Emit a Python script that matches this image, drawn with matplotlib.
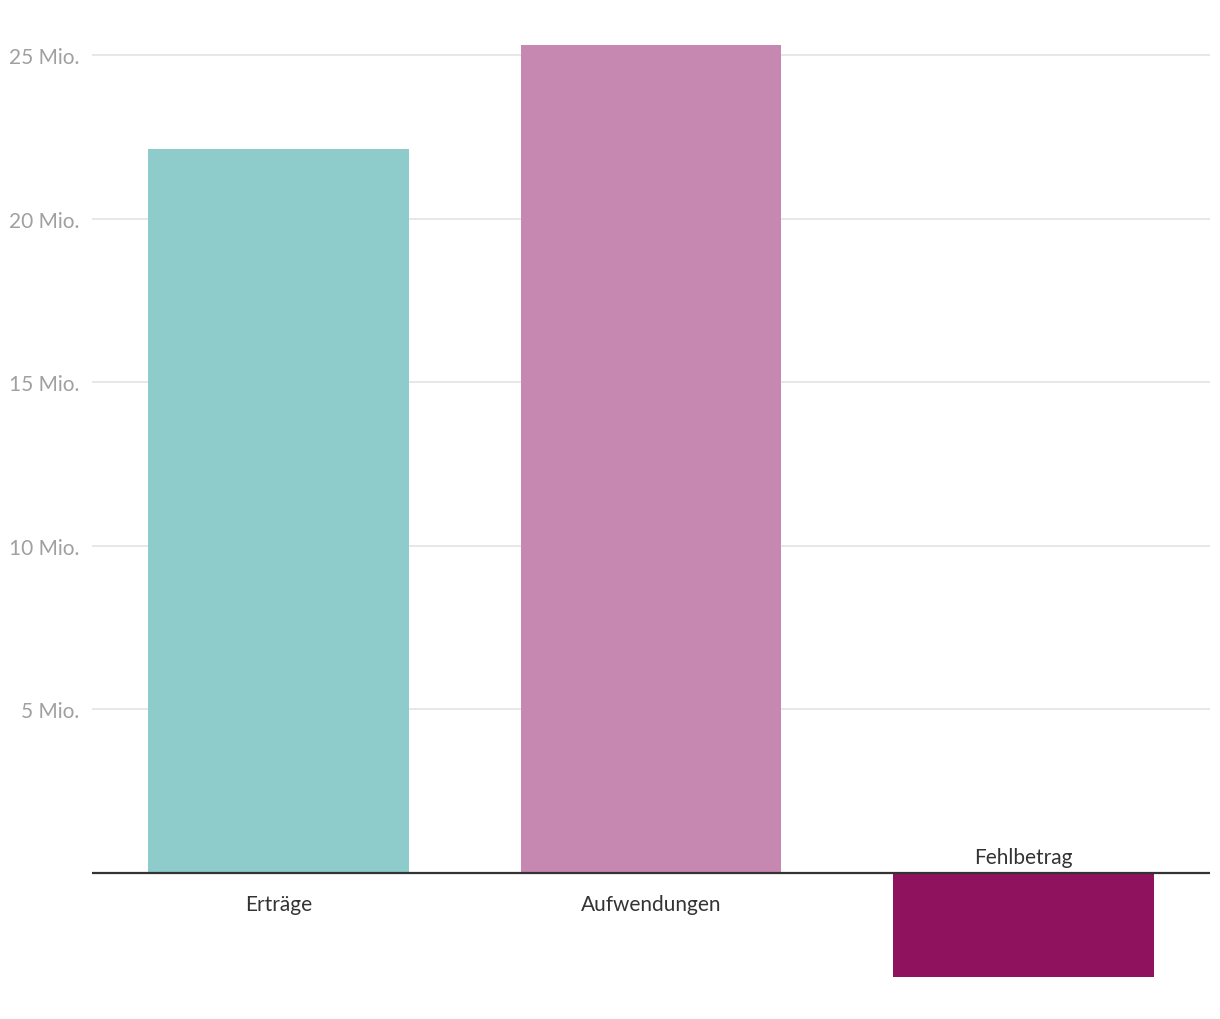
import matplotlib
matplotlib.use('Agg')
import matplotlib.pyplot as plt
from matplotlib.ticker import FixedLocator

plt.rcParams['font.family'] = ['Lato', 'DejaVu Sans']

# Daten (in Mio.)
kategorien = ['Erträge', 'Aufwendungen', 'Fehlbetrag']
werte = [22.12, 25.3, -3.17]
farben = ['#8dcccb', '#c688b0', '#8e125e']
yticks = [5, 10, 15, 20, 25]
ytick_labels = ['5 Mio.', '10 Mio.', '15 Mio.', '20 Mio.', '25 Mio.']

fig = plt.figure(figsize=(12.2, 10.2), dpi=100)
ax = fig.add_axes([92/1220, 0, (1210-92)/1220, 1])

x = range(len(kategorien))
ax.bar(x, werte, width=0.7, color=farben, zorder=2)

ax.set_xlim(-0.5, 2.5)
ax.set_ylim(-4.46, 26.71)

ax.yaxis.set_major_locator(FixedLocator(yticks))
ax.set_yticklabels(ytick_labels)
ax.tick_params(axis='y', length=0, pad=9, labelsize=15, labelcolor='#a0a0a0')
ax.set_xticks([])
ax.grid(axis='y', color='#e3e3e3', linewidth=1.2, zorder=0)
ax.axhline(0, color='#333333', linewidth=1.6, zorder=3)

for s in ax.spines.values():
    s.set_visible(False)

for i, (k, w) in enumerate(zip(kategorien, werte)):
    if w >= 0:
        ax.annotate(k, (i, 0), xytext=(0, -15), textcoords='offset points',
                    ha='center', va='top', fontsize=15, color='#333333')
    else:
        ax.annotate(k, (i, 0), xytext=(0, 4), textcoords='offset points',
                    ha='center', va='bottom', fontsize=15, color='#333333')

fig.savefig('out.png', dpi=100)
